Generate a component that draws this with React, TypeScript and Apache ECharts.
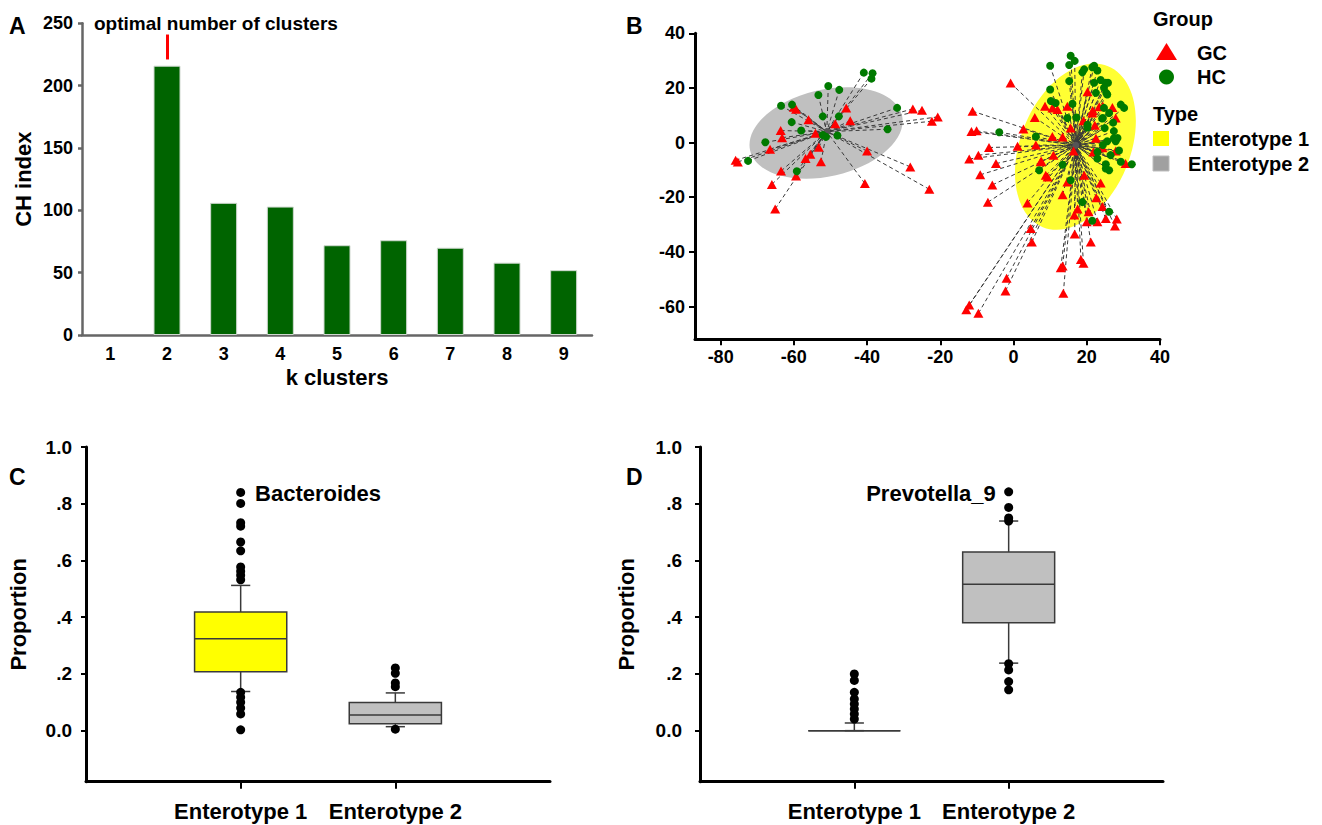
import React, { useEffect, useRef } from 'react';
import * as echarts from 'echarts';

// ---------- Panel A ----------
const kClusters = ['1', '2', '3', '4', '5', '6', '7', '8', '9'];
const chIndex = [0, 216, 106, 103, 72, 76, 70, 58, 52];
const optimalK = '2';
const optimalMark = [221, 241];

// ---------- Panel B ----------
const groupNames = ['GC', 'HC'];
const typeNames = ['Enterotype 1', 'Enterotype 2'];
const centroid1: number[] = [17, -1];
const centroid2: number[] = [-51, 4];
// ellipse: [cx, cy, semi-axis x, semi-axis y, rotation deg]
const ellipseType1 = [16.9, -1.5, 15.0, 31.8, -22];
const ellipseType2 = [-51.2, 3.5, 21.3, 15.9, 13];

const gcType2: number[][] = [
  [-60.0, 12.9], [-59.4, 12.2], [-45.7, 12.7], [-56.0, 8.4], [-44.6, 8.0], [-48.7, 6.9], [-63.6, 4.4],
  [-63.2, 1.8], [-54.1, 3.4], [-27.5, 12.3], [-25.0, 11.8], [-20.7, 9.4], [-22.3, 7.8], [-66.5, -2.4],
  [-53.2, -1.7], [-40.0, -3.1], [-55.5, -4.3], [-56.8, -5.8], [-52.6, -7.0], [-75.9, -6.5], [-75.3, -7.1],
  [-28.2, -8.9], [-63.5, -10.4], [-59.4, -12.2], [-66.0, -15.3], [-40.6, -15.0], [-23.0, -17.1], [-65.1, -24.3],
];
const hcType2: number[][] = [
  [-40.9, 25.6], [-38.5, 25.4], [-38.8, 23.4], [-50.6, 20.7], [-47.6, 19.3], [-53.3, 17.4], [-63.5, 13.5],
  [-60.5, 13.9], [-31.8, 12.7], [-52.1, 9.6], [-47.7, 9.6], [-60.6, 7.5], [-58.0, 4.4], [-34.4, 4.9],
  [-52.1, 2.8], [-51.2, 2.1], [-48.1, 2.6], [-67.8, 0.1], [-72.5, -6.7], [-59.2, -10.5],
];
const gcType1: number[][] = [
  [-0.8, 21.8], [-11.2, 11.5], [-11.5, 4.1], [-10.1, 4.3], [-6.7, -1.8], [1.1, -1.3], [-12.1, -6.0],
  [-9.6, -4.6], [-4.8, -7.7], [-9.1, -11.8], [-5.8, -15.5], [-7.0, -21.8], [-1.9, -49.7], [-2.2, -54.3],
  [-12.1, -59.4], [-12.9, -61.2], [-9.6, -62.5], [2.7, 5.0], [5.8, 9.2], [8.6, 13.3], [10.6, 12.7],
  [12.0, 12.1], [14.7, 13.3], [20.2, 18.6], [21.6, 11.7], [23.4, 13.1], [27.0, 12.8], [27.9, 9.0],
  [19.1, 8.0], [22.2, 6.3], [15.6, 5.3], [13.4, 2.0], [10.6, 2.2], [6.1, -0.9], [10.9, -4.6], [7.6, -6.8],
  [16.4, -3.1], [21.8, -3.4], [24.3, -1.9], [30.6, -7.7], [8.8, -12.0], [19.3, -12.0], [14.7, -14.4],
  [13.4, -19.1], [23.8, -14.8], [22.6, -20.2], [24.3, -23.4], [3.8, -22.1], [17.5, -24.3], [20.5, -25.3],
  [16.6, -26.5], [20.0, -29.0], [22.9, -29.0], [25.2, -27.8], [28.2, -28.0], [27.7, -30.5], [4.7, -31.4],
  [5.0, -36.4], [16.7, -33.5], [21.1, -36.4], [12.9, -45.8], [13.4, -45.2], [18.4, -42.8], [19.1, -44.2],
  [13.6, -55.1], [22.5, 1.6], [21.5, 10.8], [24.4, 13.3], [27.9, -3.1], [9.3, -12.6], [7.4, -7.0],
];
const hcType1: number[][] = [
  [15.6, 31.8], [16.7, 29.9], [10.0, 28.1], [15.2, 28.4], [19.3, 26.8], [21.5, 27.6], [22.9, 26.4],
  [18.8, 25.7], [15.2, 22.5], [22.0, 21.9], [23.8, 22.9], [25.8, 21.9], [10.0, 19.4], [24.7, 20.1],
  [22.5, 18.2], [25.3, 18.2], [30.2, 12.7], [10.2, 15.2], [11.5, 14.5], [16.1, 14.2], [24.7, 12.7],
  [26.1, 10.8], [14.7, 9.0], [17.2, 9.2], [20.2, 5.5], [24.9, 5.3], [27.4, 4.2], [28.4, 1.7], [27.9, 0.5],
  [-3.9, 3.8], [6.1, 2.2], [22.9, -5.8], [25.2, -7.9], [29.3, -7.0], [32.3, -7.9], [26.1, -10.1],
  [13.4, -8.1], [7.0, -10.1], [15.6, -13.8], [18.8, -21.8], [26.1, -25.3], [21.5, -28.6], [22.9, -3.4],
  [24.2, 8.8], [27.2, 7.3], [28.8, -2.9], [25.6, 0.5], [29.3, 13.9], [22.0, 28.1], [25.2, 21.9],
  [25.6, 17.6], [27.4, 1.6], [26.5, -4.6], [25.2, -9.5], [24.4, -0.9], [20.2, 6.5], [24.4, 9.0],
];

// ---------- Panels C & D ----------
const boxCategories = ['', 'Enterotype 1', 'Enterotype 2', ''];
// [categoryIndex, lowerWhisker, Q1, median, Q3, upperWhisker]
const bacteroidesBoxes = [
  [1, 0.138, 0.208, 0.324, 0.418, 0.512],
  [2, 0.014, 0.024, 0.055, 0.099, 0.133],
];
const bacteroidesOutliers1 = [0.840, 0.801, 0.733, 0.721, 0.665, 0.634, 0.577, 0.562, 0.548, 0.532, 0.135, 0.118, 0.100, 0.080, 0.059, 0.003];
const bacteroidesOutliers2 = [0.221, 0.202, 0.168, 0.155, 0.005];
const prevotellaBoxes = [
  [1, 0, 0, 0, 0, 0.027],
  [2, 0.238, 0.380, 0.516, 0.630, 0.739],
];
const prevotellaOutliers1 = [0.200, 0.177, 0.135, 0.112, 0.094, 0.076, 0.059, 0.041];
const prevotellaOutliers2 = [0.842, 0.787, 0.750, 0.739, 0.236, 0.214, 0.173, 0.144];

const FONT = '"Liberation Sans", Arial, Helvetica, sans-serif';
const bold = (size: number) => ({ fontFamily: FONT, fontWeight: 'bold' as const, fontSize: size, color: '#000' });

function txt(text: string, x: number, y: number, size: number, align = 'left') {
  return {
    type: 'text', x, y, silent: true,
    style: {
      text, font: `bold ${size}px ${FONT}`, fill: '#000',
      align, verticalAlign: 'middle', textAlign: align, textVerticalAlign: 'middle',
    },
  };
}

function boxRender(colors: string[]) {
  return (params: any, api: any) => {
    const xi = api.value(0);
    const lo = api.coord([xi, api.value(1)]);
    const q1 = api.coord([xi, api.value(2)]);
    const md = api.coord([xi, api.value(3)]);
    const q3 = api.coord([xi, api.value(4)]);
    const hi = api.coord([xi, api.value(5)]);
    const step = Math.abs(api.coord([2, 0])[0] - api.coord([1, 0])[0]);
    const hw = step * 0.298;
    const cw = step * 0.062;
    const x = lo[0];
    const st = { stroke: '#3a3a3a', lineWidth: 1.5, fill: 'none' };
    return {
      type: 'group',
      children: [
        { type: 'line', shape: { x1: x, y1: q3[1], x2: x, y2: hi[1] }, style: st },
        { type: 'line', shape: { x1: x - cw, y1: hi[1], x2: x + cw, y2: hi[1] }, style: st },
        { type: 'line', shape: { x1: x, y1: q1[1], x2: x, y2: lo[1] }, style: st },
        { type: 'line', shape: { x1: x - cw, y1: lo[1], x2: x + cw, y2: lo[1] }, style: st },
        {
          type: 'rect',
          shape: { x: x - hw, y: q3[1], width: 2 * hw, height: q1[1] - q3[1] },
          style: { fill: colors[params.dataIndex], stroke: '#3a3a3a', lineWidth: 1.5 },
        },
        { type: 'line', shape: { x1: x - hw, y1: md[1], x2: x + hw, y2: md[1] }, style: st },
      ],
    };
  };
}

const ellipseColors = ['#ffff33', '#c0c0c0'];

export default function App() {
  const ref = useRef<HTMLDivElement>(null);
  useEffect(() => {
    if (!ref.current) return;
    const chart = echarts.init(ref.current, undefined, { renderer: 'svg' });

    const spokes = [
      ...[...gcType1, ...hcType1].map((p) => ({ coords: [p, centroid1] })),
      ...[...gcType2, ...hcType2].map((p) => ({ coords: [p, centroid2] })),
    ];

    const propFormatter = (v: number) => {
      if (Math.abs(v) < 1e-9) return '0.0';
      if (Math.abs(v - 1) < 1e-9) return '1.0';
      return v.toFixed(1).replace(/^0\./, '.');
    };

    const boxXAxis = (gridIndex: number) => ({
      gridIndex, type: 'category', data: boxCategories, boundaryGap: false,
      axisLine: { onZero: false, lineStyle: { color: '#000', width: 3 } },
      axisTick: { interval: (i: number) => i === 1 || i === 2, length: 7, lineStyle: { color: '#000', width: 2 } },
      axisLabel: { ...bold(22), interval: (i: number) => i === 1 || i === 2, margin: 19 },
      splitLine: { show: false },
    });
    const boxYAxis = (gridIndex: number, margin: number, nameGap: number) => ({
      gridIndex, type: 'value', min: -0.18, max: 1.0, splitNumber: 6,
      name: 'Proportion', nameLocation: 'middle', nameGap, nameTextStyle: bold(22),
      axisLine: { show: true, onZero: false, lineStyle: { color: '#000', width: 3 } },
      axisTick: { show: true, length: 5, lineStyle: { color: '#000', width: 2 } },
      axisLabel: { ...bold(19), margin, showMinLabel: false, formatter: propFormatter },
      splitLine: { show: false },
    });

    const option: any = {
      animation: false,
      backgroundColor: '#fff',
      grid: [
        { left: 82, top: 23.3, width: 510, height: 311.7, outerBoundsMode: 'none' },
        { left: 695, top: 33.3, width: 465, height: 306, outerBoundsMode: 'none' },
        { left: 86, top: 447, width: 464, height: 334.7, outerBoundsMode: 'none' },
        { left: 700, top: 447, width: 463, height: 334.7, outerBoundsMode: 'none' },
      ],
      xAxis: [
        {
          gridIndex: 0, type: 'category', data: kClusters,
          name: 'k clusters', nameLocation: 'middle', nameGap: 31, nameTextStyle: bold(22),
          axisLine: { onZero: false, lineStyle: { color: '#666', width: 2.5 } },
          axisTick: { length: 4, lineStyle: { color: '#666', width: 2.5 } },
          axisLabel: { ...bold(18), margin: 10 },
        },
        {
          gridIndex: 1, type: 'value', min: -87, max: 40, splitNumber: 6,
          axisLine: { onZero: false, lineStyle: { color: '#000', width: 3 } },
          axisTick: { show: true, length: 6, lineStyle: { color: '#000', width: 2 } },
          axisLabel: { ...bold(18), margin: 9, showMinLabel: false },
          splitLine: { show: false },
        },
        boxXAxis(2),
        boxXAxis(3),
      ],
      yAxis: [
        {
          gridIndex: 0, type: 'value', min: 0, max: 250, interval: 50,
          name: 'CH index', nameLocation: 'middle', nameGap: 48, nameTextStyle: bold(22),
          axisLine: { show: true, lineStyle: { color: '#666', width: 2.5 } },
          axisTick: { show: true, length: 4, lineStyle: { color: '#666', width: 2.5 } },
          axisLabel: { ...bold(18), margin: 9 },
          splitLine: { show: false },
        },
        {
          gridIndex: 1, type: 'value', min: -72, max: 40, splitNumber: 6,
          axisLine: { show: true, onZero: false, lineStyle: { color: '#000', width: 3 } },
          axisTick: { show: true, length: 6, lineStyle: { color: '#000', width: 2 } },
          axisLabel: { ...bold(18), margin: 10, showMinLabel: false },
          splitLine: { show: false },
        },
        boxYAxis(2, 14, 57),
        boxYAxis(3, 18, 63),
      ],
      series: [
        {
          type: 'bar', xAxisIndex: 0, yAxisIndex: 0, barWidth: 27,
          data: chIndex.map((v) => (v === 0 ? { value: v, itemStyle: { borderWidth: 0, opacity: 0 } } : v)),
          itemStyle: { color: '#006400', borderColor: '#cfd8cf', borderWidth: 1 },
          markLine: {
            silent: true, symbol: ['none', 'none'], label: { show: false },
            lineStyle: { color: '#ff0000', width: 3, type: 'solid' },
            data: [[
              { coord: [kClusters.indexOf(optimalK), optimalMark[0]] },
              { coord: [kClusters.indexOf(optimalK), optimalMark[1]] },
            ]],
          },
        },
        {
          type: 'custom', xAxisIndex: 1, yAxisIndex: 1, silent: true, z: 1,
          data: [ellipseType1, ellipseType2],
          renderItem: (params: any, api: any) => {
            const c = api.coord([api.value(0), api.value(1)]);
            const sx = api.size([api.value(2), 0]);
            const sy = api.size([0, api.value(3)]);
            return {
              type: 'ellipse', x: c[0], y: c[1], rotation: (api.value(4) * Math.PI) / 180,
              shape: { cx: 0, cy: 0, rx: sx[0], ry: sy[1] },
              style: { fill: ellipseColors[params.dataIndex], stroke: 'none' },
            };
          },
        },
        {
          type: 'lines', coordinateSystem: 'cartesian2d', xAxisIndex: 1, yAxisIndex: 1, silent: true, z: 2,
          data: spokes,
          lineStyle: { color: '#3a3a3a', width: 1, type: [4, 3], opacity: 1 },
        },
        {
          type: 'scatter', xAxisIndex: 1, yAxisIndex: 1, silent: true, z: 3,
          data: [centroid1, centroid2], symbolSize: 7, itemStyle: { color: '#555', opacity: 1 },
        },
        {
          type: 'scatter', name: groupNames[0], xAxisIndex: 1, yAxisIndex: 1, z: 4,
          data: [...gcType1, ...gcType2], symbol: 'triangle', symbolSize: [10, 9],
          itemStyle: { color: '#ff0000', opacity: 1 },
        },
        {
          type: 'scatter', name: groupNames[1], xAxisIndex: 1, yAxisIndex: 1, z: 5,
          data: [...hcType1, ...hcType2], symbol: 'circle', symbolSize: 8,
          itemStyle: { color: '#007a00', opacity: 1 },
        },
        {
          type: 'custom', xAxisIndex: 2, yAxisIndex: 2, silent: true,
          data: bacteroidesBoxes, renderItem: boxRender(['#ffff00', '#c0c0c0']),
        },
        {
          type: 'scatter', xAxisIndex: 2, yAxisIndex: 2, silent: true, symbolSize: 9,
          itemStyle: { color: '#000', opacity: 1 },
          data: [...bacteroidesOutliers1.map((v) => [1, v]), ...bacteroidesOutliers2.map((v) => [2, v])],
        },
        {
          type: 'custom', xAxisIndex: 3, yAxisIndex: 3, silent: true,
          data: prevotellaBoxes, renderItem: boxRender(['#ffff00', '#c0c0c0']),
        },
        {
          type: 'scatter', xAxisIndex: 3, yAxisIndex: 3, silent: true, symbolSize: 9,
          itemStyle: { color: '#000', opacity: 1 },
          data: [...prevotellaOutliers1.map((v) => [1, v]), ...prevotellaOutliers2.map((v) => [2, v])],
        },
      ],
      graphic: [
        txt('A', 9, 26, 23),
        txt('B', 626, 26, 23),
        txt('C', 9, 477, 23),
        txt('D', 626, 477, 23),
        txt('optimal number of clusters', 94, 23, 19),
        txt('Bacteroides', 318, 493, 22, 'center'),
        txt('Prevotella_9', 931, 493, 22, 'center'),
        // legend of panel B
        txt('Group', 1153, 19, 20),
        { type: 'polygon', silent: true, shape: { points: [[1156, 60], [1177, 60], [1166.5, 43]] }, style: { fill: '#ff0000' } },
        txt(groupNames[0], 1197, 53, 20),
        { type: 'circle', silent: true, shape: { cx: 1166.5, cy: 77, r: 7.5 }, style: { fill: '#007a00' } },
        txt(groupNames[1], 1197, 77, 20),
        txt('Type', 1153, 114, 20),
        { type: 'rect', silent: true, shape: { x: 1153, y: 131, width: 16, height: 15 }, style: { fill: '#ffff00' } },
        txt(typeNames[0], 1188, 139, 20),
        { type: 'rect', silent: true, shape: { x: 1153, y: 156, width: 16, height: 15 }, style: { fill: '#a0a0a0', stroke: '#bdbdbd', lineWidth: 1 } },
        txt(typeNames[1], 1188, 164, 20),
      ],
    };
    chart.setOption(option);
    return () => chart.dispose();
  }, []);
  return <div ref={ref} style={{ position: 'absolute', left: 0, top: 0, width: 1322, height: 825 }} />;
}
